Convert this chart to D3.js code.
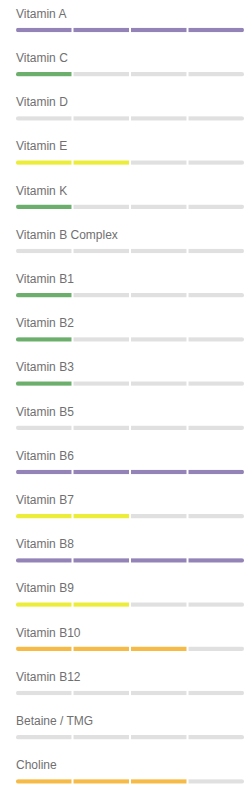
<!DOCTYPE html>
<html lang="en">
<head>
    <meta charset="UTF-8">
    <title>Vitamin levels</title>
    <script src="https://d3js.org/d3.v7.min.js"></script>
    <style>
        body { margin: 0; background: #fff; }
    </style>
</head>
<body>
    <div id="chart"></div>

    <script>
        // data: nutrient names and how many of the 4 segments are filled
        const nutrients = ["Vitamin A", "Vitamin C", "Vitamin D", "Vitamin E", "Vitamin K",
            "Vitamin B Complex", "Vitamin B1", "Vitamin B2", "Vitamin B3", "Vitamin B5",
            "Vitamin B6", "Vitamin B7", "Vitamin B8", "Vitamin B9", "Vitamin B10",
            "Vitamin B12", "Betaine / TMG", "Choline"];
        const levels = [4, 1, 0, 2, 1, 0, 1, 1, 1, 0, 4, 2, 4, 2, 3, 0, 0, 3];
        const segments = [1, 2, 3, 4];
        // colour of filled segments depends on the level reached
        const levelColors = ["#e0e0e0", "#6cae6c", "#ecec3a", "#f5bb46", "#9383b6"];
        const emptyColor = "#e0e0e0";

        const width = 250, height = 800;
        const barLeft = 16, barRight = 244, barH = 4.5;

        const svg = d3.select("#chart")
            .append("svg")
            .attr("width", width)
            .attr("height", height);

        const y = d3.scalePoint().domain(nutrients).range([30, 781.4]);
        const x = d3.scaleBand().domain(segments).range([barLeft, barRight]).paddingInner(0.035);

        const defs = svg.append("defs");

        const rows = svg.selectAll("g.row")
            .data(nutrients.map((n, i) => ({ name: n, level: levels[i], i: i })))
            .join("g")
            .attr("class", "row")
            .attr("transform", d => `translate(0, ${y(d.name)})`);

        // rounded ends on the whole bar
        defs.selectAll("clipPath")
            .data(nutrients)
            .join("clipPath")
            .attr("id", (d, i) => "clip" + i)
            .append("rect")
            .attr("x", barLeft)
            .attr("y", -barH / 2)
            .attr("width", barRight - barLeft)
            .attr("height", barH)
            .attr("rx", 2.2);

        rows.append("text")
            .attr("x", barLeft)
            .attr("y", -12.3)
            .attr("font-family", "'Liberation Sans', Arial, sans-serif")
            .attr("font-size", 12)
            .attr("fill", "#707070")
            .text(d => d.name);

        rows.append("g")
            .attr("clip-path", d => `url(#clip${d.i})`)
            .selectAll("rect")
            .data(d => segments.map(s => ({ s: s, level: d.level })))
            .join("rect")
            .attr("x", d => x(d.s))
            .attr("y", -barH / 2)
            .attr("width", x.bandwidth())
            .attr("height", barH)
            .attr("fill", d => d.s <= d.level ? levelColors[d.level] : emptyColor);
    </script>
</body>
</html>
